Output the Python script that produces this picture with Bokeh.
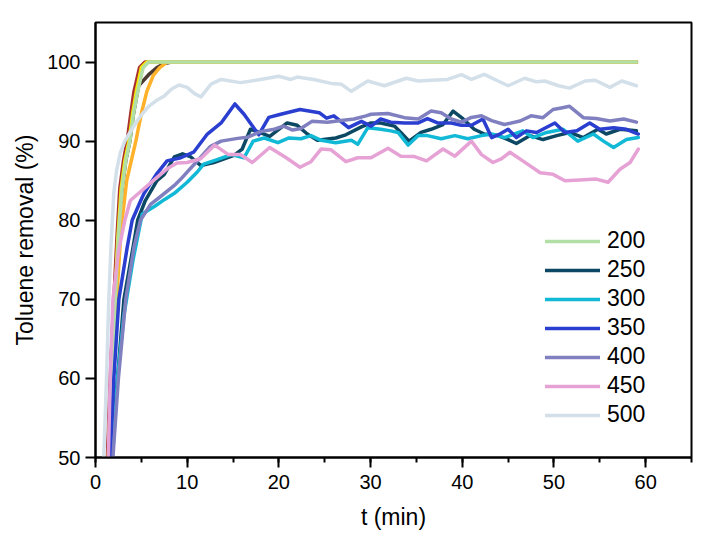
from bokeh.plotting import figure
from bokeh.models import Range1d, SingleIntervalTicker, Legend, LegendItem
from bokeh.embed import file_html
from bokeh.resources import INLINE

# ---------------- data ----------------
labels = ["200", "250", "300", "350", "400", "450", "500"]
colors = ["#b2dfa6", "#0c4863", "#12b9d6", "#2a3ed0", "#8080c0", "#e6a2d4", "#d3e0ea"]

t200 = [1.45, 1.75, 2.15, 2.5, 2.9, 3.3, 3.75, 4.15, 4.6, 5.2, 5.8, 59.0]
v200 = [50, 60, 70, 78, 84, 87.5, 90, 93.5, 96.3, 99.3, 100, 100]

t250 = [1.7, 2.4, 3.1, 4.1, 4.6, 5.4, 6.7, 7.5, 8.6, 9.5, 10.4, 11.5, 12.9, 15.1, 16.0,
        16.9, 17.9, 19.0, 20.9, 22.0, 23.1, 24.2, 26.2, 27.3, 29.0, 30.05, 31.1, 32.6, 33.3,
        34.2, 35.5, 36.6, 37.9, 39.0, 40.1, 41.3, 42.4, 43.9, 45.0, 45.9, 47.4, 48.8, 50.3,
        51.7, 53.2, 54.8, 55.7, 57.2, 59.0]
v250 = [50, 60, 70, 76.6, 80, 82.4, 85, 85.8, 88.0, 88.4, 88.0, 86.9, 87.3, 88.2, 89.0,
        91.5, 91.1, 90.6, 92.3, 92.0, 90.9, 90.1, 90.4, 90.8, 91.8, 92.3, 92.3, 91.9, 91.1,
        90.0, 91.1, 91.5, 92.1, 93.8, 92.8, 91.5, 90.9, 90.7, 90.2, 89.7, 90.7, 90.2, 90.7,
        91.1, 90.45, 91.5, 90.9, 91.5, 91.3]

t300 = [1.85, 2.4, 3.1, 4.1, 5.1, 6.5, 7.5, 8.6, 10.0, 11.1, 11.8, 13.1, 14.8, 16.2, 17.2,
        18.4, 19.9, 21.1, 22.4, 23.5, 24.6, 26.2, 27.9, 28.6, 29.7, 31.1, 32.2, 33.0, 34.1,
        35.2, 36.2, 37.7, 39.2, 40.6, 42.1, 43.2, 44.6, 46.6, 47.7, 49.2, 51.0, 52.6, 54.3,
        55.4, 56.5, 57.9, 59.2]
v300 = [50, 60, 68, 75, 80.8, 81.8, 82.6, 83.4, 84.8, 86.1, 87.1, 87.6, 88.3, 87.9, 90.0,
        90.4, 89.8, 90.4, 90.3, 90.7, 90.1, 89.8, 90.1, 89.6, 91.7, 91.5, 91.3, 91.1, 89.5,
        90.7, 90.7, 90.3, 90.7, 90.3, 90.7, 90.9, 90.45, 91.3, 90.45, 91.1, 91.5, 90.0, 90.9,
        90.0, 89.2, 90.2, 90.45]

t350 = [1.6, 2.0, 2.55, 3.46, 4.0, 4.9, 5.3, 6.7, 7.8, 9.3, 10.7, 12.2, 13.7, 15.2, 16.2,
        17.8, 18.9, 20.2, 22.3, 24.4, 25.2, 26.0, 27.6, 29.0, 30.05, 31.1, 32.2, 33.7, 35.2,
        36.2, 37.3, 38.8, 39.9, 41.0, 42.25, 43.2, 44.1, 45.0, 45.9, 47.0, 48.1, 50.1, 51.2,
        52.5, 53.9, 55.0, 56.5, 57.9, 59.2]
v350 = [50, 60, 70, 76.6, 80, 82.4, 83.4, 85.9, 87.5, 87.9, 88.6, 90.9, 92.3, 94.7, 93.4,
        90.8, 93.0, 93.4, 94.0, 93.6, 92.9, 93.2, 91.7, 92.5, 91.9, 92.8, 92.4, 92.3, 92.3,
        92.85, 92.3, 92.3, 92.0, 92.0, 92.8, 90.45, 90.9, 91.5, 90.45, 91.3, 91.1, 92.3, 91.1,
        91.3, 92.3, 91.5, 91.7, 91.5, 90.9]

t400 = [1.9, 2.5, 3.3, 4.2, 4.9, 6.0, 7.1, 8.6, 9.3, 10.4, 11.5, 12.5, 13.7, 15.5, 16.6,
        18.0, 19.5, 20.5, 21.5, 22.4, 23.6, 25.3, 26.8, 28.2, 29.5, 30.05, 31.9, 33.7, 35.2,
        36.6, 37.7, 38.8, 39.9, 41.0, 42.1, 43.2, 44.6, 46.3, 47.5, 48.8, 49.9, 50.8, 51.7,
        53.2, 54.6, 56.1, 57.6, 59.0]
v400 = [50, 60, 70, 76.6, 80, 82.0, 83.0, 84.4, 85.2, 86.6, 88.0, 89.3, 90.0, 90.35, 90.5,
        91.2, 91.5, 91.9, 91.4, 91.6, 92.5, 92.4, 92.6, 92.8, 93.2, 93.4, 93.5, 92.97, 92.8,
        93.8, 93.6, 92.8, 92.4, 93.0, 93.2, 92.6, 92.1, 92.55, 93.2, 92.97, 94.0, 94.2, 94.4,
        92.97, 92.85, 92.55, 92.8, 92.4]

t450 = [1.4, 1.6, 1.9, 2.5, 3.2, 3.8, 4.9, 6.3, 7.8, 8.9, 10.0, 11.5, 13.0, 14.5, 15.8,
        17.1, 19.0, 20.8, 22.3, 23.5, 24.6, 25.7, 27.3, 28.6, 30.05, 31.9, 33.3, 34.8, 36.1,
        37.9, 39.2, 41.0, 42.1, 43.35, 44.3, 45.2, 46.6, 48.5, 49.9, 51.2, 52.8, 54.6, 55.9,
        57.2, 58.3, 59.2]
v450 = [50, 60, 70, 76, 80, 82.5, 83.6, 85.0, 86.5, 87.25, 87.3, 87.8, 89.5, 88.3, 88.3,
        87.3, 89.2, 87.9, 86.7, 87.4, 89.0, 88.9, 87.4, 87.9, 87.9, 89.1, 88.1, 88.05, 87.5,
        89.0, 88.1, 90.0, 88.3, 87.3, 87.8, 88.6, 87.5, 86.0, 85.8, 85.0, 85.1, 85.2, 84.8,
        86.45, 87.3, 89.0]

t500 = [0.9, 1.2, 1.45, 1.7, 2.0, 2.3, 2.7, 3.2, 3.8, 4.4, 5.0, 5.8, 6.6, 7.5, 8.3, 9.1,
        10.0, 10.8, 11.5, 12.6, 13.7, 15.8, 18.0, 20.0, 21.3, 22.0, 23.8, 25.7, 26.8, 27.9,
        29.7, 31.5, 33.9, 35.2, 36.6, 38.4, 39.9, 41.0, 42.4, 43.9, 45.0, 46.8, 48.1, 49.0,
        50.5, 51.7, 53.4, 54.5, 56.1, 57.4, 59.0]
v500 = [50, 60, 70, 77, 83.5, 86.3, 88.5, 90, 91.2, 92.3, 93.3, 94.4, 95.1, 95.7, 96.6, 97.1,
        96.8, 96.0, 95.6, 97.2, 97.8, 97.4, 97.8, 98.2, 97.8, 98.1, 97.8, 97.3, 97.2, 96.3,
        97.6, 97.0, 97.95, 97.6, 97.7, 97.8, 98.4, 97.8, 98.45, 97.6, 97.0, 97.95, 97.5, 97.6,
        97.0, 96.7, 97.6, 97.7, 96.8, 97.6, 97.0]

# extra (unlabelled) fast curves that reach 100 %
extra_colors = ["#a8302f", "#4a3a30", "#f6ea00", "#ffb12a"]
t_brown = [1.3, 1.6, 2.0, 2.35, 2.65, 3.05, 3.45, 3.85, 4.2, 4.8, 5.4, 59.0]
v_brown = [50, 60, 70, 78, 84, 87.5, 90, 93.5, 96.3, 99.3, 100, 100]
t_dark = [1.45, 1.75, 2.15, 2.5, 2.9, 3.3, 3.75, 4.15, 4.7, 5.8, 6.7, 7.5, 8.3, 59.0]
v_dark = [50, 60, 70, 78, 84, 87.5, 90, 93.5, 97.0, 98.4, 99.3, 99.8, 100, 100]
t_yellow = [1.4, 1.7, 2.1, 2.45, 2.8, 3.2, 3.65, 4.05, 4.45, 5.0, 5.6, 59.0]
v_yellow = [50, 60, 70, 78, 84, 87.5, 90, 93.5, 96.3, 99.3, 100, 100]
t_orange = [1.5, 1.8, 2.3, 2.8, 3.4, 4.4, 5.0, 5.6, 6.3, 7.0, 7.8, 59.0]
v_orange = [50, 60, 70, 79, 85, 90, 93.5, 96.3, 98.3, 99.3, 100, 100]

x_ticks_interval = 10
y_ticks_interval = 10

# ---------------- figure ----------------
FONT = "Liberation Sans"
p = figure(frame_width=596, frame_height=435,
           min_border_left=95, min_border_right=12, min_border_top=22, min_border_bottom=71,
           x_range=Range1d(0, 65), y_range=Range1d(50, 105),
           output_backend="svg", toolbar_location=None,
           x_axis_label="t (min)", y_axis_label="Toluene removal (%)")
p.grid.visible = False
p.outline_line_color = "black"
p.outline_line_width = 2
p.outline_line_alpha = 1.0
p.background_fill_color = "white"
p.border_fill_color = "white"

p.xaxis.ticker = SingleIntervalTicker(interval=x_ticks_interval, num_minor_ticks=2)
p.yaxis.ticker = SingleIntervalTicker(interval=y_ticks_interval, num_minor_ticks=0)
for ax in (p.xaxis, p.yaxis):
    ax.axis_line_width = 2
    ax.major_tick_line_width = 2
    ax.minor_tick_line_width = 2
    ax.major_tick_in = 0
    ax.major_tick_out = 10
    ax.minor_tick_in = 0
    ax.major_label_text_font = FONT
    ax.major_label_text_font_size = "20px"
    ax.major_label_text_color = "black"
    ax.axis_label_text_font = FONT
    ax.axis_label_text_font_size = "23px"
    ax.axis_label_text_font_style = "normal"
    ax.axis_label_text_color = "black"
    ax.axis_line_color = "black"
    ax.major_tick_line_color = "black"
    ax.minor_tick_line_color = "black"
p.xaxis.minor_tick_out = 5
p.yaxis.minor_tick_out = 0
p.xaxis.major_label_standoff = 7
p.yaxis.major_label_standoff = 5
p.xaxis.axis_label_standoff = 12
p.yaxis.axis_label_standoff = 6

LW = 3.5
for (tt, vv), c in zip([(t_brown, v_brown), (t_dark, v_dark), (t_yellow, v_yellow),
                        (t_orange, v_orange)], extra_colors):
    p.line(tt, vv, line_color=c, line_width=LW, line_join="round", line_cap="round")

series = [(t200, v200), (t250, v250), (t300, v300), (t350, v350),
          (t400, v400), (t450, v450), (t500, v500)]
items = []
for (tt, vv), c, lab in zip(series, colors, labels):
    r = p.line(tt, vv, line_color=c, line_width=LW, line_join="round", line_cap="round")
    items.append(LegendItem(label=lab, renderers=[r]))

legend = Legend(items=items, location=(450, 29),
                glyph_width=55, glyph_height=22, label_height=22, label_standoff=7,
                spacing=2, padding=0, margin=0,
                label_text_font=FONT, label_text_font_size="23px", label_text_color="black",
                border_line_alpha=0, background_fill_alpha=0)
p.add_layout(legend, "center")

open("out.html", "w").write(file_html(p, INLINE))
